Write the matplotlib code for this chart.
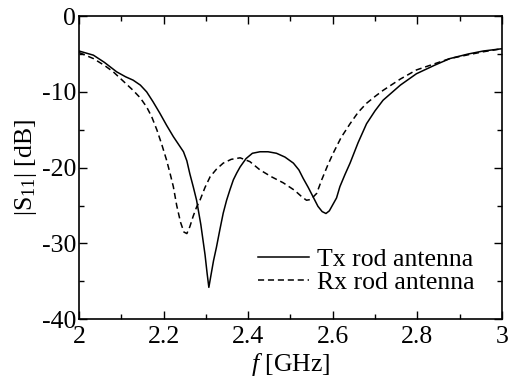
import matplotlib
matplotlib.use("Agg")
import matplotlib.pyplot as plt
from matplotlib.ticker import MultipleLocator

# S11 readings (GHz, dB)
tx_freq = [2.0, 2.034, 2.06, 2.089, 2.11, 2.128, 2.145, 2.16, 2.175, 2.191, 2.207, 2.223,
           2.235, 2.247, 2.255, 2.262, 2.27, 2.278, 2.288, 2.298, 2.303, 2.307, 2.312,
           2.318, 2.325, 2.333, 2.341, 2.349, 2.357, 2.365, 2.373, 2.381, 2.395, 2.41,
           2.428, 2.447, 2.467, 2.487, 2.507, 2.52, 2.53, 2.542, 2.554, 2.565, 2.575,
           2.584, 2.592, 2.6, 2.609, 2.617, 2.629, 2.641, 2.66, 2.68, 2.7, 2.719, 2.76,
           2.798, 2.84, 2.877, 2.92, 2.956, 3.0]
tx_s11 = [-4.6, -5.15, -6.1, -7.35, -8.0, -8.45, -9.1, -10.0, -11.3, -12.8, -14.4, -15.9,
          -16.9, -17.9, -19.1, -20.8, -22.5, -24.3, -27.5, -31.5, -34.0, -35.8, -34.2,
          -32.3, -30.5, -28.2, -26.0, -24.3, -22.9, -21.6, -20.7, -19.9, -18.8, -18.1,
          -17.9, -17.9, -18.1, -18.6, -19.4, -20.3, -21.4, -22.6, -23.9, -25.1, -25.8,
          -26.05, -25.7, -24.9, -24.0, -22.5, -20.9, -19.4, -16.7, -14.2, -12.5, -11.1,
          -9.1, -7.6, -6.5, -5.6, -5.0, -4.6, -4.3]

rx_freq = [2.0, 2.034, 2.06, 2.081, 2.105, 2.128, 2.145, 2.16, 2.172, 2.184, 2.196, 2.207,
           2.215, 2.223, 2.231, 2.24, 2.248, 2.255, 2.262, 2.27, 2.278, 2.286, 2.298,
           2.31, 2.325, 2.341, 2.36, 2.381, 2.404, 2.428, 2.455, 2.483, 2.51, 2.528,
           2.538, 2.548, 2.562, 2.574, 2.588, 2.601, 2.62, 2.641, 2.66, 2.68, 2.7,
           2.719, 2.76, 2.798, 2.84, 2.877, 2.92, 2.956, 3.0]
rx_s11 = [-4.8, -5.6, -6.5, -7.35, -8.6, -9.8, -10.8, -12.0, -13.3, -15.0, -17.0, -19.0,
          -20.7, -22.5, -25.0, -27.2, -28.5, -28.7, -27.8, -26.4, -25.2, -24.3, -22.6,
          -21.2, -20.2, -19.4, -18.9, -18.7, -19.2, -20.3, -21.2, -22.0, -23.0, -23.9,
          -24.3, -24.2, -23.4, -21.6, -19.7, -18.1, -16.0, -14.2, -12.7, -11.5, -10.6,
          -9.8, -8.3, -7.1, -6.3, -5.6, -5.1, -4.7, -4.3]

x_ticks = [2, 2.2, 2.4, 2.6, 2.8, 3]
x_labels = ["2", "2.2", "2.4", "2.6", "2.8", "3"]
y_ticks = [-40, -30, -20, -10, 0]
y_labels = ["-40", "-30", "-20", "-10", "0"]

plt.rcParams["font.family"] = ["Liberation Serif", "DejaVu Serif"]
plt.rcParams["mathtext.fontset"] = "custom"
plt.rcParams["mathtext.rm"] = "Liberation Serif"
plt.rcParams["mathtext.it"] = "Liberation Serif:italic"
plt.rcParams["axes.unicode_minus"] = False

fig = plt.figure(figsize=(5.1, 3.85), dpi=100)
ax = fig.add_axes([0.155, 0.171, 0.829, 0.787])

ax.plot(tx_freq, tx_s11, color="black", lw=1.1, label="Tx rod antenna")
ax.plot(rx_freq, rx_s11, color="black", lw=1.1, ls=(0, (4, 2.5)), label="Rx rod antenna")

ax.set_xlim(2, 3)
ax.set_ylim(-40, 0)
ax.set_xticks(x_ticks)
ax.set_xticklabels(x_labels)
ax.set_yticks(y_ticks)
ax.set_yticklabels(y_labels)
ax.xaxis.set_minor_locator(MultipleLocator(0.1))
ax.yaxis.set_minor_locator(MultipleLocator(5))
ax.tick_params(which="both", direction="in", top=True, right=True, labelsize=18.5)
ax.tick_params(axis="x", pad=5)
ax.tick_params(axis="y", pad=2)
ax.tick_params(which="major", length=6, width=1)
ax.tick_params(which="minor", length=3.5, width=1)
for s in ax.spines.values():
    s.set_linewidth(1.2)

ax.set_xlabel("$f$ [GHz]", fontsize=18.5, labelpad=2)
ax.set_ylabel("|S$_{11}$| [dB]", fontsize=18.5, labelpad=2)

ax.legend(loc="lower right", frameon=False, fontsize=18.5, handlelength=2.0,
          handletextpad=0.3, labelspacing=0.0, borderaxespad=0.3,
          bbox_to_anchor=(0.978, 0.025))

fig.savefig("out.png", dpi=100)
